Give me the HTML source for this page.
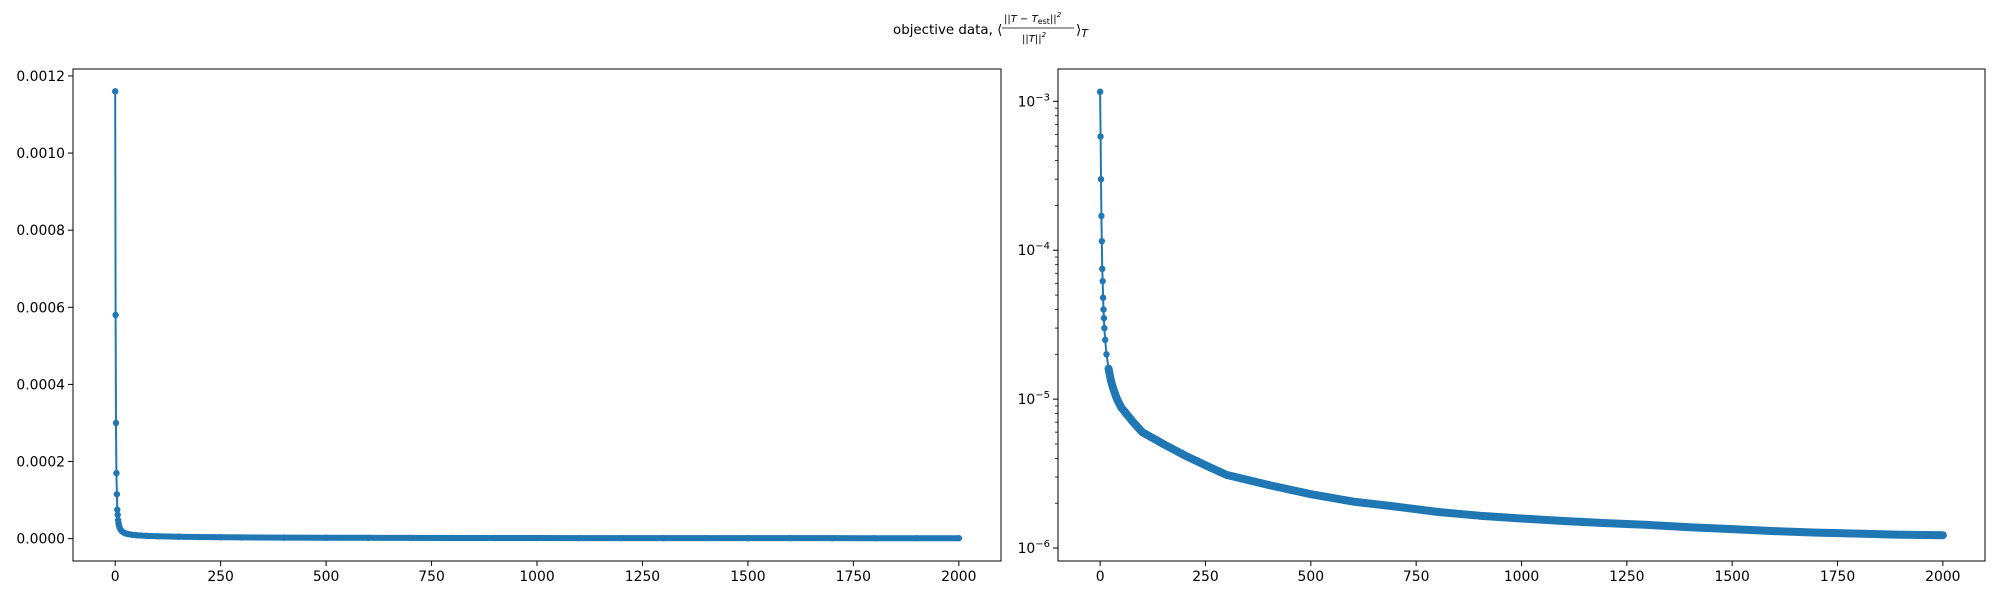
<!DOCTYPE html>
<html><head><meta charset="utf-8"><style>
body{margin:0;background:#fff}
svg{display:block;font-family:"DejaVu Sans","Liberation Sans",sans-serif}
</style></head><body>
<svg id="fig" width="2000" height="600" viewBox="0 0 2000 600">
<rect width="2000" height="600" fill="#fff"/>
<g font-size="13.4" fill="#000">
<text x="893" y="34">objective data, ⟨</text>
<text x="1004" y="22" font-size="10" font-style="italic">||T − T<tspan font-size="8" baseline-shift="-2" font-style="normal">est</tspan>||<tspan font-size="7" baseline-shift="5">2</tspan></text>
<line x1="1002" y1="28" x2="1074" y2="28" stroke="#000" stroke-width="0.8"/>
<text x="1022" y="42" font-size="10" font-style="italic">||T||<tspan font-size="7" baseline-shift="5">2</tspan></text>
<text x="1076" y="34">⟩<tspan font-style="italic" font-size="11" baseline-shift="-3">T</tspan></text>
</g>
<g id="left"></g>
<g id="right"></g>
</svg>
<script>
const iterations=[0,1,2,3,4,5,6,7,8,9,10,12,15,20,25,30,40,50,75,100,150,200,250,300,400,500,600,700,800,900,1000,1100,1200,1300,1400,1500,1600,1700,1800,1900,2000];
const objective=[1.16e-3,5.8e-4,3.0e-4,1.7e-4,1.15e-4,7.5e-5,6.2e-5,4.8e-5,4.0e-5,3.5e-5,3.0e-5,2.5e-5,2.0e-5,1.6e-5,1.35e-5,1.2e-5,1.0e-5,8.8e-6,7.2e-6,6.0e-6,5.0e-6,4.2e-6,3.6e-6,3.1e-6,2.65e-6,2.3e-6,2.05e-6,1.9e-6,1.75e-6,1.65e-6,1.58e-6,1.52e-6,1.47e-6,1.43e-6,1.38e-6,1.34e-6,1.3e-6,1.27e-6,1.25e-6,1.23e-6,1.22e-6];
const xTicks=[0,250,500,750,1000,1250,1500,1750,2000];
const yTicksLin=[0,0.0002,0.0004,0.0006,0.0008,0.0010,0.0012];
const yTicksLog=[-6,-5,-4,-3];
const NS="http://www.w3.org/2000/svg";
const C="#1f77b4";
function el(t,a,p){const e=document.createElementNS(NS,t);for(const k in a)e.setAttribute(k,a[k]);p.appendChild(e);return e;}
function draw(g,L,R,T,B,yf,yTickVals,isLog){
  const xmin=-100,xmax=2100;
  const xs=v=>L+(v-xmin)/(xmax-xmin)*(R-L);
  const ys=yf;
  const pts=iterations.map((x,i)=>xs(x).toFixed(1)+","+ys(objective[i]).toFixed(1)).join(" ");
  const line=el("polyline",{points:pts,fill:"none",stroke:C,"stroke-width":2},g);
  
  
  const bandPts=iterations.map((x,i)=>[x,objective[i]]).filter(d=>d[0]>=20).map(d=>xs(d[0]).toFixed(1)+","+ys(d[1]).toFixed(1)).join(" ");
  const band=el("polyline",{points:bandPts,fill:"none",stroke:C,"stroke-width":isLog?8:6,"stroke-linecap":"round","stroke-linejoin":"round"},g);
  
  
  iterations.forEach((x,i)=>{
    const c=el("circle",{cx:xs(x),cy:ys(objective[i]),r:3.2,fill:C},g);
    
    
  });
  const fr=el("rect",{x:L,y:T,width:R-L,height:B-T,fill:"none",stroke:"#000","stroke-width":1},g);
  
  
  xTicks.forEach(v=>{
    const x=xs(v);
    el("line",{x1:x,y1:B,x2:x,y2:B+5,stroke:"#000"},g);
    const t=el("text",{x:x,y:B+20,"text-anchor":"middle","font-size":13.9},g);
    t.textContent=v;
    
    
  });
  yTickVals.forEach(v=>{
    const y=isLog?ys(Math.pow(10,v)):ys(v);
    el("line",{x1:L-5,y1:y,x2:L,y2:y,stroke:"#000"},g);
    const t=el("text",{x:L-8,y:y+5,"text-anchor":"end","font-size":13.9},g);
    if(isLog){t.textContent="10";const s=el("tspan",{"font-size":10,"baseline-shift":"6"},t);s.textContent="−"+(-v);}
    else t.textContent=v.toFixed(4);
    
    
    if(isLog&&v<-3){for(let m=2;m<=9;m++){const ym=ys(m*Math.pow(10,v));if(ym>=T)el("line",{x1:L-3,y1:ym,x2:L,y2:ym,stroke:"#000","stroke-width":0.8},g);}}
  });
}
const T=69,B=561;
const lmin=-0.000058,lmax=0.001218;
draw(document.getElementById("left"),73,1001,T,B,v=>B-(v-lmin)/(lmax-lmin)*(B-T),yTicksLin,false);
const lgMin=-6.087,lgMax=-2.783;
draw(document.getElementById("right"),1058,1985,T,B,v=>B-(Math.log10(v)-lgMin)/(lgMax-lgMin)*(B-T),yTicksLog,true);
</script>
</body></html>
